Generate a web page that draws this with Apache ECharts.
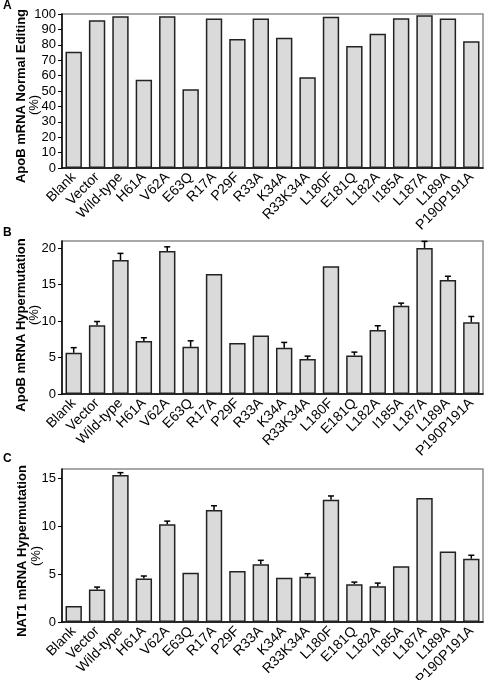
<!DOCTYPE html>
<html>
<head>
<meta charset="utf-8">
<script src="https://cdn.jsdelivr.net/npm/echarts@6/dist/echarts.min.js"></script>
<style>
html,body{margin:0;padding:0;background:#fff;}
#chart{width:488px;height:680px;}
</style>
</head>
<body>
<div id="chart"></div>
<script>
const categories = ["Blank","Vector","Wild-type","H61A","V62A","E63Q","R17A","P29F","R33A","K34A","R33K34A","L180F","E181Q","L182A","I185A","L187A","L189A","P190P191A"];

// Panel A: ApoB mRNA normal editing (%)
const editingA = [75.5,96.0,98.5,57.3,98.5,51.2,97.0,83.7,97.0,84.6,59.0,98.2,79.2,87.2,97.2,99.2,97.0,82.3];

// Panel B: ApoB mRNA hypermutation (%) and upper error
const hyperB = [5.66,9.45,18.4,7.26,19.63,6.48,16.48,6.99,8.04,6.35,4.79,17.53,5.3,8.77,12.1,20.05,15.66,9.86];
const errB   = [0.7,0.5,0.9,0.46,0.57,0.82,null,null,null,0.73,0.41,null,0.45,0.6,0.37,0.9,0.5,0.78];

// Panel C: NAT1 mRNA hypermutation (%) and upper error
const hyperC = [1.68,3.4,15.38,4.56,10.23,5.15,11.7,5.33,6.03,4.63,4.73,12.79,3.96,3.75,5.82,12.97,7.36,6.62];
const errC   = [null,0.25,0.24,0.25,0.32,null,0.46,null,0.42,null,0.32,0.39,0.21,0.32,null,null,null,0.36];

const yNames = ["ApoB mRNA Normal Editing", "ApoB mRNA Hypermutation", "NAT1 mRNA Hypermutation"];
const yUnit = "(%)";
const yMax = [100, 21, 16];
const yTicks = [[0,10,20,30,40,50,60,70,80,90,100],[0,5,10,15,20],[0,5,10,15]];
const panelLetters = ["A","B","C"];

const FONT = "Liberation Sans, Arial, Helvetica, sans-serif";
const grids = [
  {left:62, right:5, top:14, height:154},
  {left:62, right:5, top:241, height:153},
  {left:62, right:5, top:469, height:153}
];
const letterTops = [0, 227, 453];
// y-title placement (centers)
const nameCenters = [[21,96],[21,325],[22.5,551]];
const unitCenters = [[34,105],[34,315],[36.5,556]];

const seriesData = [editingA, hyperB, hyperC];
const errData = [null, errB, errC];

const graphics = [];
yNames.forEach((n,i)=>{
  graphics.push({type:'text', x:nameCenters[i][0], y:nameCenters[i][1], rotation:Math.PI/2,
    style:{text:n, fill:'#000', font:'bold 13px ' + FONT, align:'center', verticalAlign:'middle'}});
  graphics.push({type:'text', x:unitCenters[i][0], y:unitCenters[i][1], rotation:Math.PI/2,
    style:{text:yUnit, fill:'#000', font:'13px ' + FONT, align:'center', verticalAlign:'middle'}});
});

const option = {
  animation:false,
  title: panelLetters.map((t,i)=>({text:t,left:3,top:letterTops[i],padding:0,textStyle:{fontFamily:FONT,fontSize:12,fontWeight:'bold',color:'#000'}})),
  graphic: graphics,
  grid: grids.map(g=>Object.assign({show:true,borderColor:'#8c8c8c',borderWidth:1.5,backgroundColor:'transparent',containLabel:false,outerBoundsMode:'none'},g)),
  xAxis: grids.map((g,i)=>({
    type:'category', gridIndex:i, data:categories,
    axisLine:{lineStyle:{color:'#000',width:1.5}},
    axisTick:{alignWithLabel:true,length:3,lineStyle:{color:'#000',width:1}},
    axisLabel:{rotate:45,interval:0,margin:7,color:'#000',fontFamily:FONT,fontSize:14}
  })),
  yAxis: grids.map((g,i)=>({
    type:'value', gridIndex:i, min:0, max:yMax[i],
    splitLine:{show:false},
    axisLine:{show:true,lineStyle:{color:'#000',width:1.5}},
    axisTick:{show:true,length:4,lineStyle:{color:'#000',width:1},customValues:yTicks[i]},
    axisLabel:{color:'#000',fontFamily:FONT,fontSize:13,margin:6,customValues:yTicks[i]}
  })),
  series: []
};

seriesData.forEach((vals,i)=>{
  option.series.push({
    type:'bar', xAxisIndex:i, yAxisIndex:i, data:vals, barWidth:'70%',
    itemStyle:{color:'#dadada',borderColor:'#222',borderWidth:1.5},
    z:2
  });
  if(errData[i]){
    const errs = errData[i];
    const d = vals.map((v,k)=> errs[k]==null ? null : [k, v, v+errs[k]]).filter(x=>x);
    option.series.push({
      type:'custom', xAxisIndex:i, yAxisIndex:i, data:d, z:3,
      renderItem:function(params, api){
        const x = api.value(0);
        const p0 = api.coord([x, api.value(1)]);
        const p1 = api.coord([x, api.value(2)]);
        const hw = 3;
        return {type:'group', children:[
          {type:'line', shape:{x1:p0[0],y1:p0[1],x2:p1[0],y2:p1[1]}, style:{stroke:'#000',lineWidth:1.5}},
          {type:'line', shape:{x1:p1[0]-hw,y1:p1[1],x2:p1[0]+hw,y2:p1[1]}, style:{stroke:'#000',lineWidth:1.5}}
        ]};
      }
    });
  }
});

const chart = echarts.init(document.getElementById('chart'), null, {renderer:'canvas'});
chart.setOption(option);
</script>
</body>
</html>
